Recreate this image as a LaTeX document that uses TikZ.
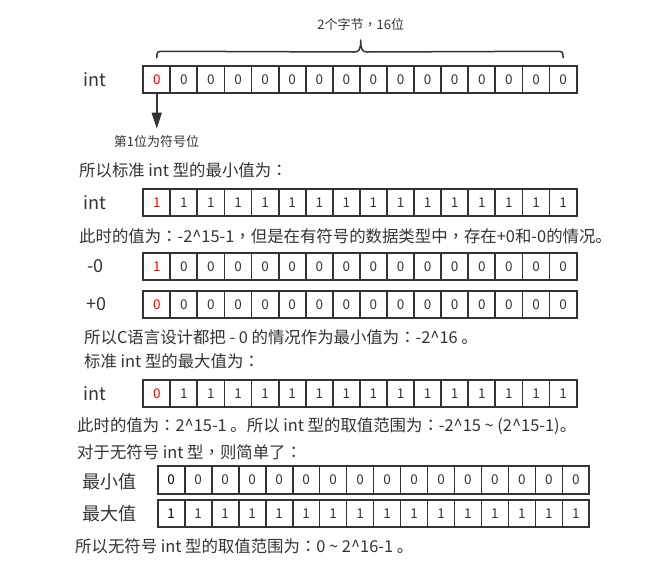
\documentclass[tikz,border=0pt]{standalone}
\usepackage{fontspec}
\setmainfont{Noto Sans CJK SC}
\newfontfamily\tcpunct{Noto Sans CJK TC}
\newcommand{\cjcolon}{{\tcpunct ：}}
\newcommand{\cjcomma}{{\tcpunct ，}}
\usetikzlibrary{arrows.meta}
\definecolor{ink}{HTML}{333333}
\definecolor{sigred}{HTML}{FF0000}
\newcommand{\bitrow}[7]{% name, xleft, ycenter, cellwidth, first digit, other digit, first colour
  \node[cell,minimum width=#4pt,text=#7] (#1-1) at ({#2+0.5*#4},#3) {#5};
  \foreach \i in {2,...,16} {\node[cell,minimum width=#4pt] (#1-\i) at ({#2+(\i-0.5)*#4},#3) {#6};}
}
\begin{document}
\begin{tikzpicture}[x=1pt,y=-1pt,
  cell/.style={draw=ink,line width=1.8pt,minimum height=27.3pt,inner sep=0pt,
    font=\fontsize{13.5}{13.5}\selectfont,text=ink},
  rowlbl/.style={inner sep=0pt,text=ink,font=\fontsize{18}{18}\selectfont},
  body/.style={inner sep=0pt,anchor=base west,text=ink,font=\fontsize{16.4}{16.4}\selectfont},
  caption/.style={inner sep=0pt,text=ink,font=\fontsize{13}{13}\selectfont},
  bracepath/.style={draw=ink,line width=1.5pt,line cap=round,line join=round},
  signarrow/.style={draw=ink,line width=1.8pt,-{Triangle[width=10pt,length=16pt]}}
]
\useasboundingbox (0,0) rectangle (666,571);

% row 1
\node[rowlbl] (l1) at (95,79.5) {int};
\bitrow{r1}{143.2}{79.3}{27.09}{0}{0}{sigred}
\node[caption] (bytes) at (360.7,25) {2个字节\cjcomma 16位};
\coordinate (bL) at ([yshift=7pt]r1-1.north);
\coordinate (bR) at ([yshift=7pt]r1-16.north);
\draw[bracepath] (bL) .. controls ([yshift=6.5pt]bL) and ([xshift=1pt,yshift=6.5pt]bL) .. ([xshift=7pt,yshift=6.5pt]bL)
  -- (354,52) .. controls (359,52) and (360.7,50) .. (bytes.south |- 0,40)
  .. controls (360.7,50) and (362.4,52) .. (367.4,52)
  -- ([xshift=-7pt,yshift=6.5pt]bR) .. controls ([xshift=-1pt,yshift=6.5pt]bR) and ([yshift=6.5pt]bR) .. (bR);
\node[caption] (sign) at (156.5,141.7) {第1位为符号位};
\coordinate (signtip) at (r1-1.south |- 0,128.5);
\draw[signarrow] (r1-1.south) -- (signtip);

% texts and rows
\node[body] (t1) at (79,176.5) {所以标准 int 型的最小值为\cjcolon};
\node[rowlbl] (l2) at (95,202.5) {int};
\bitrow{r2}{143.2}{202.5}{27.09}{1}{1}{sigred}
\node[body] (t2) at (79,242) {此时的值为\cjcolon -2\textasciicircum15-1\cjcomma 但是在有符号的数据类型中\cjcomma 存在+0和-0的情况。};
\node[rowlbl] (l3) at (95.7,266.3) {-0};
\bitrow{r3}{143.2}{266.3}{27.09}{1}{0}{sigred}
\node[rowlbl] (l4) at (96,304.3) {+0};
\bitrow{r4}{143.2}{304.3}{27.09}{0}{0}{sigred}
\node[body] (t3) at (84,343) {所以C语言设计都把 - 0 的情况作为最小值为\cjcolon -2\textasciicircum16 。};
\node[body] (t4) at (84,367) {标准 int 型的最大值为\cjcolon};
\node[rowlbl] (l5) at (95,393.3) {int};
\bitrow{r5}{143.2}{393.3}{27.09}{0}{1}{sigred}
\node[body] (t5) at (77,431.5) {此时的值为\cjcolon 2\textasciicircum15-1 。所以 int 型的取值范围为\cjcolon -2\textasciicircum15 \textasciitilde\ (2\textasciicircum15-1)。};
\node[body] (t6) at (77,458) {对于无符号 int 型\cjcomma 则简单了\cjcolon};
\node[rowlbl] (l6) at (109.7,481.5) {最小值};
\bitrow{r6}{157.7}{480}{26.98}{0}{0}{black}
\node[rowlbl] (l7) at (109.7,514) {最大值};
\bitrow{r7}{157.7}{513.3}{26.98}{1}{1}{black}
\node[body] (t7) at (75,552.5) {所以无符号 int 型的取值范围为\cjcolon 0 \textasciitilde\ 2\textasciicircum16-1 。};
\end{tikzpicture}
\end{document}
